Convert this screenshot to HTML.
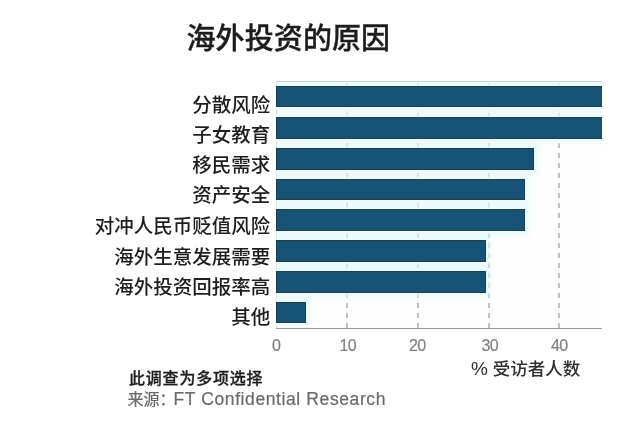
<!DOCTYPE html>
<html><head><meta charset="utf-8">
<style>
html,body{margin:0;padding:0;background:#fff;}
body{width:620px;height:424px;position:relative;overflow:hidden;font-family:"Liberation Sans","Noto Sans CJK SC",sans-serif;}
.t{position:absolute;white-space:nowrap;line-height:1;}
#title{left:186.5px;top:21.8px;font-size:29px;letter-spacing:0.1px;font-weight:500;color:#1c1c1c;-webkit-text-stroke:0.35px #1c1c1c;font-family:"Noto Sans CJK SC",sans-serif;}
.lab{position:absolute;right:349.7px;font-size:19.5px;font-weight:500;color:#1e1e1e;font-family:"Noto Sans CJK SC",sans-serif;line-height:1;white-space:nowrap;}
#plot{position:absolute;left:276px;top:81px;width:326px;height:248px;background:#fefefe;overflow:hidden;}
.bar{position:absolute;left:0;height:19.4px;background:#175377;border:1px solid #1a4153;box-shadow:0 0 4px 4px rgba(226,249,252,0.88),inset 0 -1px 0 #22505f,inset 0 1px 0 #22505f;}
.grid{position:absolute;top:0;width:1.5px;height:247px;background:repeating-linear-gradient(to bottom,#c2c2c2 0 5px,transparent 5px 10px);background-position:0 2px;}
.ax{position:absolute;font-size:16px;font-weight:400;letter-spacing:-0.6px;color:#808080;-webkit-text-stroke:0.2px #808080;font-family:"Liberation Sans",sans-serif;line-height:1;}
#wrap{position:absolute;left:0;top:0;width:620px;height:424px;filter:blur(0.5px);}
</style></head><body><div id="wrap">
<div id="title" class="t">海外投资的原因</div>

<div id="plot">
  <div style="position:absolute;left:0;top:0;width:326px;height:1px;background:#bcc0c3"></div>
  <div style="position:absolute;left:0;top:0;width:1px;height:248px;background:#c4c8ca"></div>
  <div class="grid" style="left:70px"></div>
  <div class="grid" style="left:141px"></div>
  <div class="grid" style="left:212px"></div>
  <div class="grid" style="left:282px"></div>
  <div class="bar" style="top:5px;height:19px;width:340px"></div>
  <div class="bar" style="top:36px;height:19.5px;width:340px"></div>
  <div class="bar" style="top:67px;height:20px;width:256px"></div>
  <div class="bar" style="top:98px;height:19px;width:246.6px"></div>
  <div class="bar" style="top:128px;height:20px;width:246.6px"></div>
  <div class="bar" style="top:159px;height:19.5px;width:208px"></div>
  <div class="bar" style="top:190px;height:20px;width:208px"></div>
  <div class="bar" style="top:221px;height:19px;width:28px"></div>
  <div style="position:absolute;left:0;top:247px;width:326px;height:1px;background:#9a9a9a"></div>
</div>

<div class="lab" style="top:93.8px">分散风险</div>
<div class="lab" style="top:123.65px">子女教育</div>
<div class="lab" style="top:154.00px">移民需求</div>
<div class="lab" style="top:184.35px">资产安全</div>
<div class="lab" style="top:214.70px">对冲人民币贬值风险</div>
<div class="lab" style="top:245.6px">海外生意发展需要</div>
<div class="lab" style="top:276.4px">海外投资回报率高</div>
<div class="lab" style="top:305.75px">其他</div>

<div class="ax" style="left:272px;top:337.5px">0</div>
<div class="ax" style="left:339.5px;top:337.5px">10</div>
<div class="ax" style="left:409px;top:337.5px">20</div>
<div class="ax" style="left:481.5px;top:338px">30</div>
<div class="ax" style="left:551px;top:338px">40</div>

<div class="t" style="left:471px;top:359px;font-size:17.5px;font-weight:500;color:#2e2e2e;font-family:'Liberation Sans','Noto Sans CJK SC',sans-serif;"><span style="font-size:19px">%</span> 受访者人数</div>

<div class="t" style="left:129px;top:369px;font-size:16px;font-weight:500;color:#1e1e1e;-webkit-text-stroke:0.3px #1e1e1e;font-family:'Noto Sans CJK SC',sans-serif;letter-spacing:0.8px">此调查为多项选择</div>
<div class="t" style="left:127.5px;top:390.5px;font-size:16px;color:#6a6a6a;-webkit-text-stroke:0.2px #6a6a6a;font-family:'Liberation Sans','Noto Sans CJK SC',sans-serif;">来源：<span style="font-size:17.5px;letter-spacing:0.6px;margin-left:-2px">FT Confidential Research</span></div>
</div></body></html>
